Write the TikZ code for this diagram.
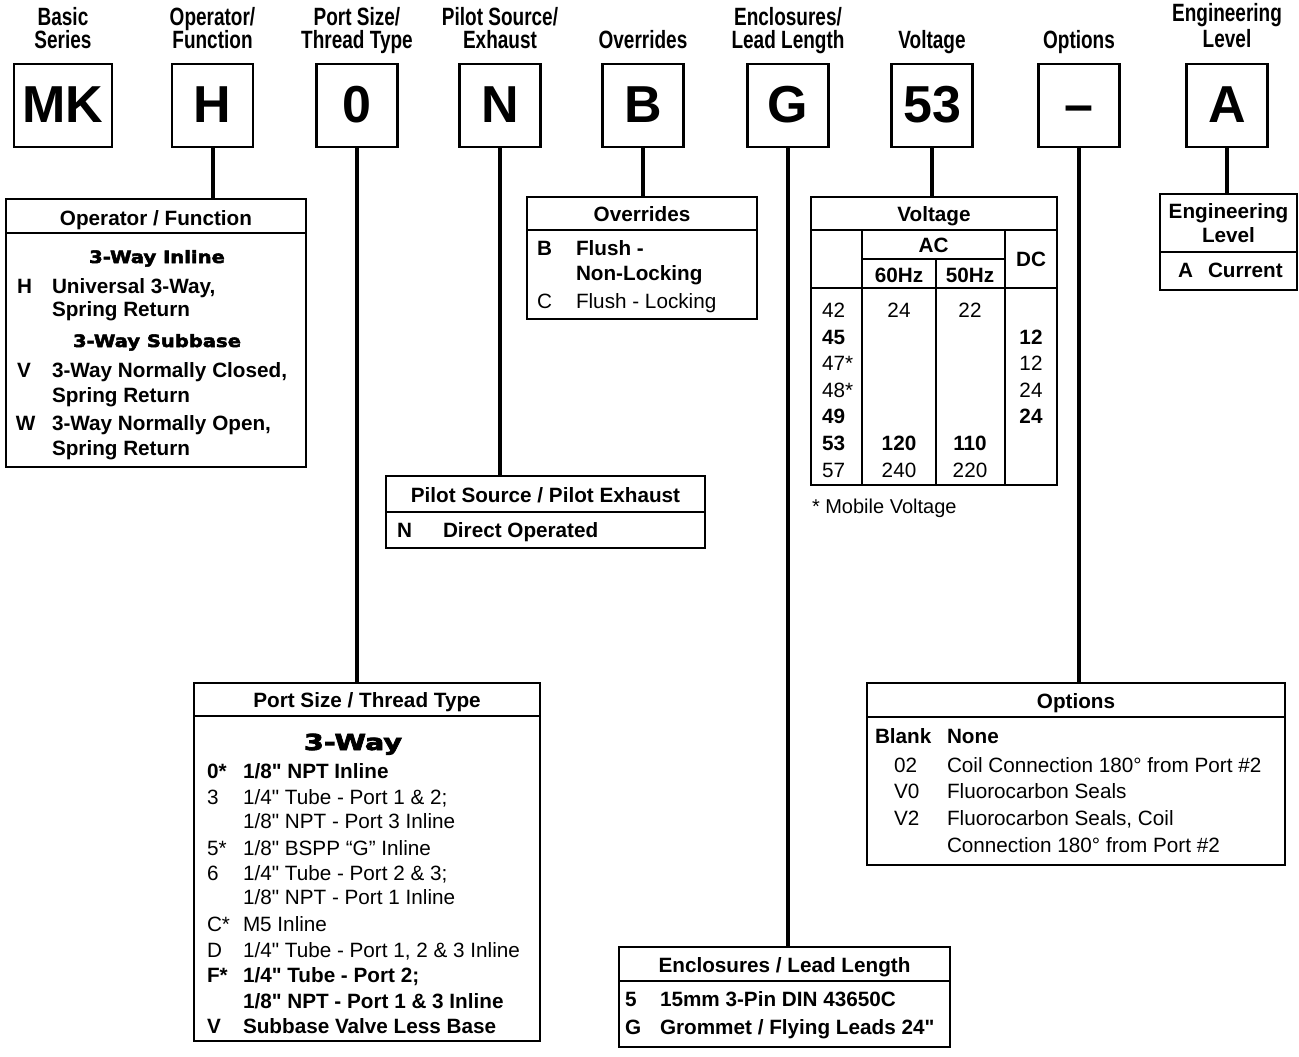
\documentclass[tikz,border=0pt]{standalone}
\usepackage{fontspec}
\setmainfont{Liberation Sans}[Ligatures=TeXOff]
\newfontfamily\condfont[FakeStretch=0.76]{Liberation Sans}
\newfontfamily\hvyfontA[FakeStretch=1.15,FakeBold=3]{DejaVu Sans}
\newfontfamily\hvyfontB[FakeStretch=1.3,FakeBold=3.5]{DejaVu Sans}
\tikzset{
  every node/.style={inner sep=0pt, outer sep=0pt},
  topbox/.style={draw, line width=2.4pt, minimum width=81pt, minimum height=83pt, text height=37pt, text depth=4pt, font=\fontsize{52}{52}\selectfont\bfseries},
  tbl/.style={draw, line width=2.4pt},
  conn/.style={line width=4pt},
  hrule/.style={line width=2.4pt},
  vrule/.style={line width=2pt},
  toplbl/.style={anchor=base, font=\condfont\fontsize{25}{25}\selectfont\bfseries},
  hdr/.style={anchor=base, font=\fontsize{20.7}{24}\selectfont\bfseries},
  tb/.style={anchor=base west, font=\fontsize{20.7}{24}\selectfont\bfseries},
  tr/.style={anchor=base west, font=\fontsize{20.7}{24}\selectfont},
  cb/.style={anchor=base, font=\fontsize{20.7}{24}\selectfont\bfseries},
  cr/.style={anchor=base, font=\fontsize{20.7}{24}\selectfont},
  hvyA/.style={anchor=base, font=\hvyfontA\fontsize{17}{20}\selectfont\bfseries},
  hvyB/.style={anchor=base, font=\hvyfontB\fontsize{22}{24}\selectfont\bfseries},
}
\begin{document}
\begin{tikzpicture}[x=1pt,y=-1pt]
\useasboundingbox (0,0) rectangle (1299,1057);

% ---- top labels ----
\node[toplbl] (l1a) at (63,26) {Basic};
\node[toplbl] (l1b) at (63,49) {Series};
\node[toplbl] (l2a) at (212.5,26) {Operator/};
\node[toplbl] (l2b) at (212.5,49) {Function};
\node[toplbl] (l3a) at (357,26) {Port Size/};
\node[toplbl] (l3b) at (357,49) {Thread Type};
\node[toplbl] (l4a) at (500,26) {Pilot Source/};
\node[toplbl] (l4b) at (500,49) {Exhaust};
\node[toplbl] (l5b) at (643,49) {Overrides};
\node[toplbl] (l6a) at (788,26) {Enclosures/};
\node[toplbl] (l6b) at (788,49) {Lead Length};
\node[toplbl] (l7b) at (932,49) {Voltage};
\node[toplbl] (l8b) at (1079,49) {Options};
\node[toplbl] (l9a) at (1227,22) {Engineering};
\node[toplbl] (l9b) at (1227,48) {Level};

% ---- top boxes ----
\node[topbox, minimum width=98pt] (bMK) at (63,105.5) {MK};
\node[topbox] (bH) at (212.5,105.5) {H};
\node[topbox] (b0) at (357,105.5) {0};
\node[topbox] (bN) at (500,105.5) {N};
\node[topbox] (bB) at (643,105.5) {B};
\node[topbox] (bG) at (788,105.5) {G};
\node[topbox] (b53) at (932,105.5) {53};
\node[topbox] (bD) at (1079,105.5) {–};
\node[topbox] (bA) at (1227,105.5) {A};

% ---- tables (frames) ----
\node[tbl, minimum width=300pt, minimum height=268pt] (tOp) at (156,333) {};
\node[tbl, minimum width=230pt, minimum height=122pt] (tOv) at (642,258) {};
\node[tbl, minimum width=319pt, minimum height=72pt] (tPi) at (545.5,512) {};
\node[tbl, minimum width=246pt, minimum height=288pt] (tVo) at (934,341) {};
\node[tbl, minimum width=137pt, minimum height=96pt] (tEn) at (1228.5,242) {};
\node[tbl, minimum width=346pt, minimum height=358pt] (tPo) at (367,862) {};
\node[tbl, minimum width=331pt, minimum height=100pt] (tEc) at (784.5,997) {};
\node[tbl, minimum width=418pt, minimum height=182pt] (tOp2) at (1076,774) {};

% ---- connectors ----
\draw[conn] (bH.south) -- (bH.south |- tOp.north);
\draw[conn] (b0.south) -- (b0.south |- tPo.north);
\draw[conn] (bN.south) -- (bN.south |- tPi.north);
\draw[conn] (bB.south) -- (bB.south |- tOv.north);
\draw[conn] (bG.south) -- (bG.south |- tEc.north);
\draw[conn] (b53.south) -- (b53.south |- tVo.north);
\draw[conn] (bD.south) -- (bD.south |- tOp2.north);
\draw[conn] (bA.south) -- (bA.south |- tEn.north);

% ---- Operator / Function ----
\draw[hrule] (tOp.west |- 0,233) -- (tOp.east |- 0,233);
\node[hdr] (op0) at (156,225) {Operator / Function};
\node[hvyA] (op1) at (157,263) {3-Way Inline};
\node[tb] (op2c) at (17,293) {H};
\node[tb] (op2) at (52,293) {Universal 3-Way,};
\node[tb] (op3) at (52,316) {Spring Return};
\node[hvyA] (op4) at (157,347) {3-Way Subbase};
\node[tb] (op5c) at (17,377) {V};
\node[tb] (op5) at (52,377) {3-Way Normally Closed,};
\node[tb] (op6) at (52,402) {Spring Return};
\node[tb] (op7c) at (16,430) {W};
\node[tb] (op7) at (52,430) {3-Way Normally Open,};
\node[tb] (op8) at (52,455) {Spring Return};

% ---- Overrides ----
\draw[hrule] (tOv.west |- 0,230) -- (tOv.east |- 0,230);
\node[hdr] (ov0) at (642,221) {Overrides};
\node[tb] (ov1c) at (537,255) {B};
\node[tb] (ov1) at (576,255) {Flush -};
\node[tb] (ov2) at (576,280) {Non-Locking};
\node[tr] (ov3c) at (537,308) {C};
\node[tr] (ov3) at (576,308) {Flush - Locking};

% ---- Pilot ----
\draw[hrule] (tPi.west |- 0,512) -- (tPi.east |- 0,512);
\node[hdr] (pi0) at (545.5,502) {Pilot Source / Pilot Exhaust};
\node[tb] (pi1c) at (397,537) {N};
\node[tb] (pi1) at (443,537) {Direct Operated};

% ---- Voltage ----
\draw[hrule] (tVo.west |- 0,230) -- (tVo.east |- 0,230);
\draw[hrule] (tVo.west |- 0,288) -- (tVo.east |- 0,288);
\draw[vrule] (862,230) -- (862,0 |- tVo.south);
\draw[vrule] (1005,230) -- (1005,0 |- tVo.south);
\draw[vrule] (936,259) -- (936,0 |- tVo.south);
\draw[vrule] (862,259) -- (1005,259);
\node[hdr] (vo0) at (934,221) {Voltage};
\node[cb] (voAC) at (933.5,252) {AC};
\node[cb] (vo60) at (899,282) {60Hz};
\node[cb] (vo50) at (970,282) {50Hz};
\node[cb] (voDC) at (1031,266) {DC};
\node[tr] (v1a) at (822,317) {42};
\node[cr] (v1b) at (899,317) {24};
\node[cr] (v1c) at (970,317) {22};
\node[tb] (v2a) at (822,344) {45};
\node[cb] (v2d) at (1031,344) {12};
\node[tr] (v3a) at (822,370) {47*};
\node[cr] (v3d) at (1031,370) {12};
\node[tr] (v4a) at (822,397) {48*};
\node[cr] (v4d) at (1031,397) {24};
\node[tb] (v5a) at (822,423) {49};
\node[cb] (v5d) at (1031,423) {24};
\node[tb] (v6a) at (822,450) {53};
\node[cb] (v6b) at (899,450) {120};
\node[cb] (v6c) at (970,450) {110};
\node[tr] (v7a) at (822,477) {57};
\node[cr] (v7b) at (899,477) {240};
\node[cr] (v7c) at (970,477) {220};
\node[tr, font=\fontsize{20}{24}\selectfont] (vnote) at (812,513) {* Mobile Voltage};

% ---- Engineering Level ----
\draw[hrule] (tEn.west |- 0,252) -- (tEn.east |- 0,252);
\node[hdr] (en0) at (1228.5,218) {Engineering};
\node[hdr] (en1) at (1228.5,242) {Level};
\node[tb] (en2c) at (1178,277) {A};
\node[tb] (en2) at (1208,277) {Current};

% ---- Port Size / Thread Type ----
\draw[hrule] (tPo.west |- 0,716) -- (tPo.east |- 0,716);
\node[hdr] (po0) at (367,707) {Port Size / Thread Type};
\node[hvyB] (po1) at (353,750) {3-Way};
\node[tb] (p1c) at (207,778) {0*};
\node[tb] (p1) at (243,778) {1/8" NPT Inline};
\node[tr] (p2c) at (207,804) {3};
\node[tr] (p2) at (243,804) {1/4" Tube - Port 1 \& 2;};
\node[tr] (p3) at (243,828) {1/8" NPT - Port 3 Inline};
\node[tr] (p4c) at (207,855) {5*};
\node[tr] (p4) at (243,855) {1/8" BSPP “G” Inline};
\node[tr] (p5c) at (207,880) {6};
\node[tr] (p5) at (243,880) {1/4" Tube - Port 2 \& 3;};
\node[tr] (p6) at (243,904) {1/8" NPT - Port 1 Inline};
\node[tr] (p7c) at (207,931) {C*};
\node[tr] (p7) at (243,931) {M5 Inline};
\node[tr] (p8c) at (207,957) {D};
\node[tr] (p8) at (243,957) {1/4" Tube - Port 1, 2 \& 3 Inline};
\node[tb] (p9c) at (207,982) {F*};
\node[tb] (p9) at (243,982) {1/4" Tube - Port 2;};
\node[tb] (p10) at (243,1008) {1/8" NPT - Port 1 \& 3 Inline};
\node[tb] (p11c) at (207,1033) {V};
\node[tb] (p11) at (243,1033) {Subbase Valve Less Base};

% ---- Enclosures ----
\draw[hrule] (tEc.west |- 0,981) -- (tEc.east |- 0,981);
\node[hdr] (ec0) at (784.5,972) {Enclosures / Lead Length};
\node[tb] (ec1c) at (625,1006) {5};
\node[tb] (ec1) at (660,1006) {15mm 3-Pin DIN 43650C};
\node[tb] (ec2c) at (625,1034) {G};
\node[tb] (ec2) at (660,1034) {Grommet / Flying Leads 24"};

% ---- Options ----
\draw[hrule] (tOp2.west |- 0,717) -- (tOp2.east |- 0,717);
\node[hdr] (o0) at (1076,708) {Options};
\node[tb] (o1c) at (875,743) {Blank};
\node[tb] (o1) at (947,743) {None};
\node[tr] (o2c) at (894,772) {02};
\node[tr] (o2) at (947,772) {Coil Connection 180° from Port \#2};
\node[tr] (o3c) at (894,798) {V0};
\node[tr] (o3) at (947,798) {Fluorocarbon Seals};
\node[tr] (o4c) at (894,825) {V2};
\node[tr] (o4) at (947,825) {Fluorocarbon Seals, Coil};
\node[tr] (o5) at (947,852) {Connection 180° from Port \#2};
\end{tikzpicture}
\end{document}
